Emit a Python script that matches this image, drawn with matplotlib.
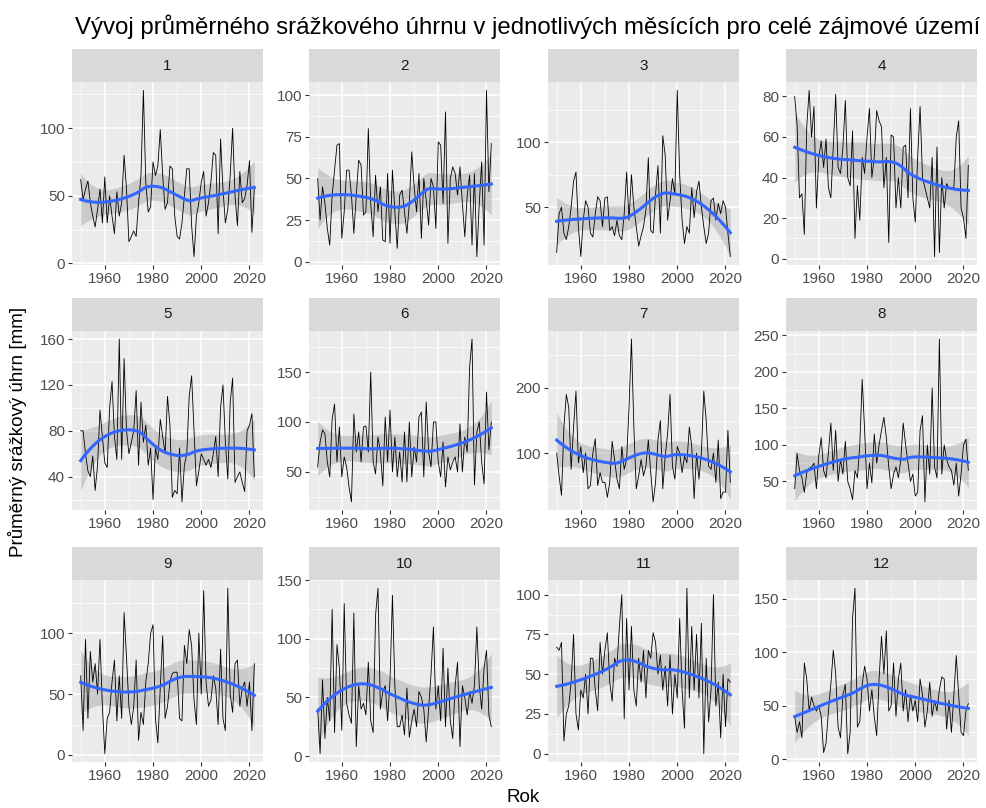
import numpy as np
import matplotlib.pyplot as plt
from matplotlib.ticker import MultipleLocator

plt.rcParams['font.family'] = ['Liberation Sans', 'DejaVu Sans']

years = np.arange(1950, 2023)

# mean monthly precipitation [mm], 1950-2022
m1 = [62, 47, 55, 61, 45, 35, 27, 40, 55, 30, 64, 30, 50, 35, 22, 53, 35, 45, 80, 55,
      16, 20, 24, 20, 45, 65, 128, 60, 38, 42, 75, 65, 72, 99, 65, 40, 45, 72, 70, 35,
      20, 18, 30, 50, 70, 70, 28, 5, 35, 45, 60, 68, 35, 45, 60, 82, 80, 22, 92, 55,
      30, 40, 65, 100, 50, 28, 68, 45, 48, 58, 76, 23, 55]
m2 = [50, 25, 45, 35, 20, 10, 40, 55, 70, 71, 14, 30, 55, 55, 40, 17, 40, 61, 58, 28,
      30, 80, 35, 15, 52, 30, 45, 13, 12, 53, 11, 55, 30, 8, 40, 43, 30, 17, 35, 66,
      45, 30, 53, 14, 50, 37, 22, 50, 45, 20, 72, 70, 35, 90, 11, 50, 57, 53, 40, 57,
      35, 15, 40, 52, 10, 53, 3, 35, 60, 10, 103, 42, 71]
m3 = [15, 45, 50, 30, 25, 35, 50, 70, 77, 35, 12, 40, 55, 50, 30, 27, 45, 58, 55, 35,
      57, 58, 32, 35, 28, 40, 28, 25, 45, 77, 40, 75, 50, 35, 20, 28, 35, 48, 88, 32,
      30, 60, 82, 30, 105, 90, 40, 55, 72, 60, 140, 75, 40, 22, 35, 30, 65, 42, 62, 70,
      50, 35, 22, 30, 55, 57, 40, 53, 45, 55, 50, 30, 12]
m4 = [80, 66, 30, 32, 12, 65, 83, 60, 75, 25, 50, 58, 45, 59, 35, 30, 55, 81, 45, 42,
      55, 78, 40, 36, 63, 10, 36, 19, 50, 42, 60, 74, 40, 50, 73, 68, 65, 35, 50, 8,
      61, 60, 25, 40, 25, 55, 56, 30, 74, 30, 18, 50, 75, 40, 35, 30, 25, 50, 1, 55,
      3, 40, 25, 37, 35, 35, 35, 60, 68, 25, 20, 10, 46]
m5 = [80, 80, 60, 45, 40, 58, 28, 50, 98, 75, 52, 48, 100, 123, 75, 55, 160, 55, 143, 80,
      60, 70, 80, 115, 50, 105, 70, 85, 50, 65, 20, 65, 55, 90, 75, 60, 110, 85, 22, 28,
      25, 65, 18, 50, 60, 110, 128, 80, 32, 45, 60, 55, 50, 55, 48, 60, 75, 40, 100, 120,
      70, 38, 105, 126, 35, 40, 44, 35, 27, 80, 85, 95, 40]
m6 = [55, 80, 92, 88, 60, 45, 103, 118, 60, 95, 45, 65, 55, 35, 20, 108, 70, 90, 60, 95,
      96, 70, 150, 60, 48, 85, 70, 36, 105, 60, 112, 50, 85, 45, 70, 40, 90, 40, 100, 45,
      75, 60, 105, 110, 45, 120, 70, 55, 100, 100, 60, 45, 80, 35, 65, 52, 60, 65, 50, 98,
      50, 85, 70, 155, 183, 37, 90, 100, 60, 38, 130, 72, 100]
m7 = [100, 65, 35, 140, 190, 170, 75, 140, 195, 85, 110, 70, 100, 45, 50, 100, 122, 50, 70, 55,
      55, 32, 55, 118, 90, 60, 45, 110, 75, 90, 170, 275, 140, 45, 65, 90, 65, 80, 120, 70,
      25, 55, 120, 150, 45, 95, 130, 190, 80, 60, 110, 100, 70, 95, 85, 140, 110, 30, 100, 60,
      100, 195, 150, 80, 75, 100, 55, 120, 30, 40, 40, 135, 55]
m8 = [40, 88, 65, 55, 35, 62, 68, 70, 75, 40, 85, 110, 65, 55, 90, 130, 65, 120, 50, 80,
      60, 105, 50, 40, 25, 65, 55, 100, 190, 120, 40, 75, 48, 115, 75, 100, 120, 138, 110, 70,
      40, 60, 70, 55, 80, 130, 100, 75, 50, 60, 30, 35, 120, 140, 22, 100, 60, 178, 70, 55,
      245, 60, 100, 80, 70, 65, 45, 75, 30, 60, 100, 108, 65]
m9 = [65, 20, 95, 30, 85, 60, 75, 50, 95, 40, 1, 30, 35, 60, 78, 28, 65, 30, 117, 80,
      40, 25, 40, 78, 12, 35, 25, 60, 75, 100, 107, 30, 10, 55, 98, 30, 40, 60, 67, 68,
      68, 30, 28, 90, 75, 103, 90, 45, 25, 100, 50, 135, 60, 40, 45, 65, 55, 25, 87, 30,
      20, 137, 50, 35, 75, 78, 40, 55, 60, 40, 60, 20, 75]
m10 = [40, 2, 65, 15, 50, 30, 125, 20, 95, 75, 22, 130, 45, 35, 28, 122, 8, 60, 40, 45,
       35, 80, 30, 20, 120, 143, 40, 55, 60, 30, 65, 137, 60, 25, 25, 35, 18, 58, 16, 30,
       40, 25, 55, 50, 40, 12, 40, 70, 110, 40, 60, 30, 92, 25, 75, 30, 15, 60, 80, 8,
       60, 50, 35, 55, 45, 60, 110, 60, 40, 75, 90, 35, 25]
m11 = [67, 65, 70, 8, 25, 30, 45, 75, 25, 15, 40, 35, 50, 25, 60, 60, 40, 27, 70, 50,
       65, 76, 45, 33, 60, 55, 80, 100, 22, 85, 40, 80, 40, 30, 60, 45, 65, 35, 65, 60,
       76, 70, 50, 62, 40, 55, 30, 62, 25, 50, 35, 85, 40, 16, 104, 35, 80, 40, 75, 35,
       82, 0, 60, 20, 40, 100, 30, 45, 10, 50, 17, 47, 45]
m12 = [40, 25, 35, 20, 90, 75, 45, 58, 50, 45, 50, 40, 6, 15, 45, 70, 102, 80, 30, 20,
       60, 70, 5, 25, 132, 160, 30, 35, 70, 87, 75, 45, 65, 40, 22, 75, 115, 80, 120, 45,
       50, 90, 40, 75, 90, 45, 65, 35, 60, 45, 55, 35, 75, 60, 30, 45, 72, 40, 55, 45,
       65, 77, 75, 28, 55, 25, 60, 97, 60, 25, 22, 45, 52]

months = ["1", "2", "3", "4", "5", "6", "7", "8", "9", "10", "11", "12"]
series = [m1, m2, m3, m4, m5, m6, m7, m8, m9, m10, m11, m12]
y_steps = [50, 25, 50, 20, 40, 50, 100, 50, 50, 50, 25, 50]
x_ticks = [1960, 1980, 2000, 2020]


def loess(x, y, xs, span=0.75):
    # local quadratic fit with tricube weights, plus standard error
    x = np.asarray(x, float)
    y = np.asarray(y, float)
    n = len(x)
    q = int(np.floor(n * span))

    def weights_row(x0):
        d = np.abs(x - x0)
        h = np.sort(d)[q - 1]
        u = np.clip(d / h, 0, 1)
        w = (1 - u ** 3) ** 3
        X = np.vstack([np.ones(n), x - x0, (x - x0) ** 2]).T
        XtW = X.T * w
        A = np.linalg.solve(XtW @ X, XtW)
        return A[0]

    L = np.array([weights_row(v) for v in x])
    res = y - L @ y
    IL = np.eye(n) - L
    d1 = np.trace(IL.T @ IL)
    sigma = np.sqrt(np.sum(res ** 2) / d1)
    Ls = np.array([weights_row(v) for v in xs])
    fit = Ls @ y
    se = sigma * np.sqrt(np.sum(Ls ** 2, axis=1))
    return fit, se


fig = plt.figure(figsize=(9.87, 8.08), dpi=100)
W, H = 987.0, 808.0

col_left = [72, 309, 548, 786]
panel_w = 191
strip_top = [49, 298, 547]
strip_h = 33
plot_bottom = [265, 510, 762]

xs = np.linspace(years.min(), years.max(), 80)

for i, (name, vals) in enumerate(zip(months, series)):
    r, c = divmod(i, 4)
    left = col_left[c] / W
    top = strip_top[r]
    ph = plot_bottom[r] - (top + strip_h)

    ax = fig.add_axes([left, 1 - plot_bottom[r] / H, panel_w / W, ph / H])
    sax = fig.add_axes([left, 1 - (top + strip_h) / H, panel_w / W, strip_h / H])
    sax.set_facecolor('#D9D9D9')
    sax.set_xticks([])
    sax.set_yticks([])
    for s in sax.spines.values():
        s.set_visible(False)
    sax.text(0.5, 0.5, name, ha='center', va='center', fontsize=11, color='#1A1A1A',
             transform=sax.transAxes)

    vals = np.array(vals, float)
    fit, se = loess(years, vals, xs)
    lo = fit - 2.0 * se
    hi = fit + 2.0 * se

    ax.set_facecolor('#EBEBEB')
    ax.fill_between(xs, lo, hi, color='#999999', alpha=0.4, lw=0, zorder=2)
    ax.plot(years, vals, color='black', lw=0.6, zorder=3)
    ax.plot(xs, fit, color='#3366FF', lw=2.2, zorder=4)

    ymin = min(vals.min(), lo.min())
    ymax = max(vals.max(), hi.max())
    pad = 0.05 * (ymax - ymin)
    ax.set_ylim(ymin - pad, ymax + pad)
    xpad = 0.05 * (years.max() - years.min())
    ax.set_xlim(years.min() - xpad, years.max() + xpad)

    ax.set_xticks(x_ticks)
    ax.xaxis.set_minor_locator(MultipleLocator(10))
    ax.yaxis.set_major_locator(MultipleLocator(y_steps[i]))
    ax.yaxis.set_minor_locator(MultipleLocator(y_steps[i] / 2))
    ax.grid(which='major', color='white', lw=1.1, zorder=1)
    ax.grid(which='minor', color='white', lw=0.5, zorder=1)
    ax.set_axisbelow(True)
    for s in ax.spines.values():
        s.set_visible(False)
    ax.tick_params(which='major', length=3, width=0.8, color='#333333',
                   labelcolor='#4D4D4D', labelsize=11, pad=2)
    ax.tick_params(which='minor', length=0)

fig.text(75 / W, 1 - 27 / H,
         "Vývoj průměrného srážkového úhrnu v jednotlivých měsících pro celé zájmové území",
         ha='left', va='center', fontsize=17.3, color='black')
fig.text(18 / W, 1 - 432 / H, "Průměrný srážkový úhrn [mm]", rotation=90,
         ha='center', va='center', fontsize=13.5, color='black')
fig.text(523 / W, 1 - 797 / H, "Rok", ha='center', va='center', fontsize=13.5, color='black')

fig.savefig('out.png', dpi=100)
